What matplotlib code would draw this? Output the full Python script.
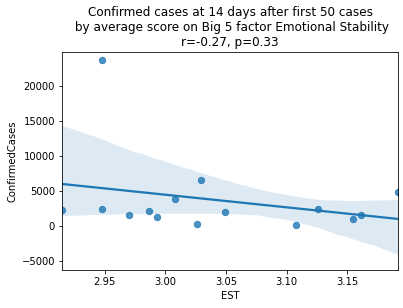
import matplotlib
matplotlib.use('Agg')
import matplotlib.pyplot as plt
import seaborn as sns
import numpy as np
import pandas as pd

# average EST score per country and confirmed cases 14 days after case 50
est = [2.9146, 2.9478, 2.9478, 2.9703, 2.9861, 2.9928, 3.0078, 3.0261,
       3.0294, 3.0494, 3.1078, 3.1261, 3.1544, 3.1611, 3.1919]
cases = [2220, 23690, 2360, 1640, 2075, 1355, 3800, 350,
         6540, 1930, 200, 2360, 1070, 1640, 4810]

df = pd.DataFrame({'EST': est, 'ConfirmedCases': cases})

fig = plt.figure(figsize=(403 / 72, 308 / 72), dpi=72)
ax = fig.add_axes([62 / 403, 1 - 270 / 308, 336 / 403, 218 / 308])
sns.regplot(x='EST', y='ConfirmedCases', data=df, ax=ax, seed=3,
            scatter_kws={'s': 40})
ax.set_xlim(min(est), max(est))
ax.set_ylim(-6300, 24900)
ax.set_title('Confirmed cases at 14 days after first 50 cases\n'
             ' by average score on Big 5 factor Emotional Stability\n'
             'r=-0.27, p=0.33', fontsize=12)
ax.tick_params(labelsize=10)
ax.set_xlabel('EST', fontsize=10)
ax.set_ylabel('ConfirmedCases', fontsize=10)

fig.savefig('out.png', dpi=72)
